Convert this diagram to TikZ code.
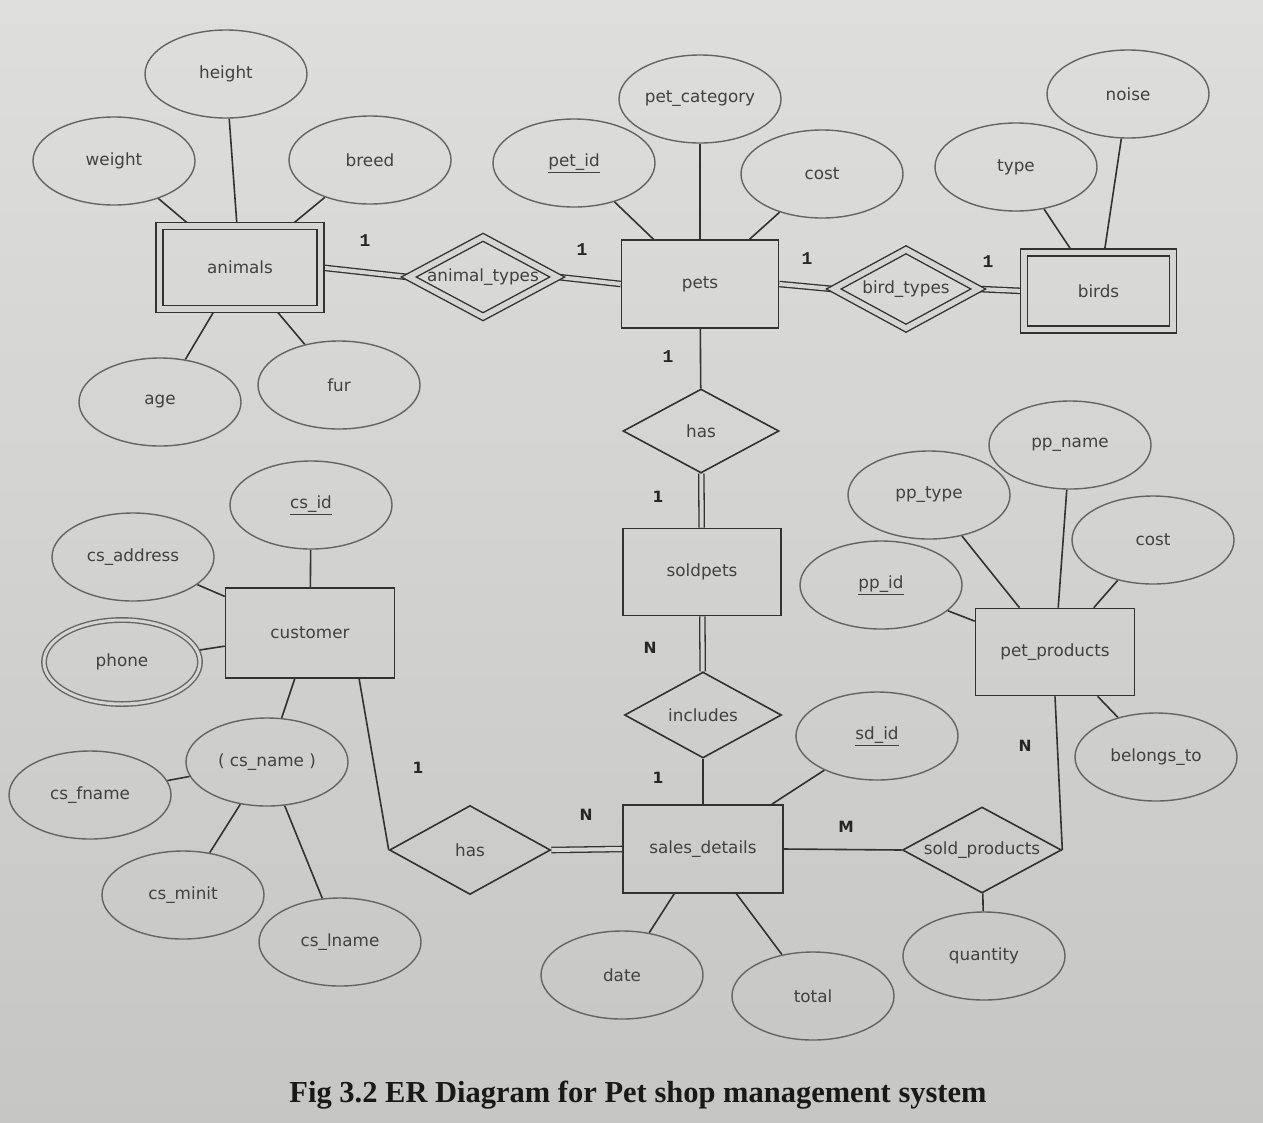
\documentclass[tikz,border=0pt]{standalone}
\usepackage{fontspec}
\setmainfont{DejaVu Sans}
\newfontfamily\capfont{Liberation Serif}
\newfontfamily\slabfont{Liberation Mono}
\usetikzlibrary{shapes.geometric,backgrounds}
\definecolor{paper}{RGB}{213,213,211}
\definecolor{papertop}{RGB}{222,222,220}
\definecolor{paperbot}{RGB}{198,198,196}
\definecolor{ink}{RGB}{50,50,50}
\definecolor{ellink}{RGB}{100,100,100}
\definecolor{txt}{RGB}{65,65,65}
\tikzset{
  lblfont/.style={font=\fontsize{16.8}{19}\selectfont, text=txt},
  attr/.style={ellipse, draw=ellink, line width=1.4pt, minimum width=162pt, minimum height=88pt, inner sep=0pt, lblfont},
  ent/.style={rectangle, draw=ink, line width=1.6pt, inner sep=0pt, lblfont},
  rel/.style={diamond, draw=ink, line width=1.6pt, inner sep=0pt},
  dblshape/.style={double=paper, double distance=5.5pt, line width=1.4pt},
  lbl/.style={inner sep=0pt, lblfont},
  cardsans/.style={inner sep=0pt, font=\bfseries\fontsize{15.5}{17}\selectfont, text=black!85},
  cardslab/.style={inner sep=0pt, font=\slabfont\bfseries\fontsize{18}{20}\selectfont, text=black!85},
  lnk/.style={draw=ink, line width=1.6pt},
  dlnk/.style={draw=ink, line width=1.3pt, double=paper, double distance=4pt}
}
\begin{document}
\begin{tikzpicture}[x=1pt,y=-1pt]
\useasboundingbox (0,0) rectangle (1263,1122);
% ---------- entities ----------
\node[ent, dblshape, minimum width=161pt, minimum height=83pt] (animals) at (240,267.5) {animals};
\node[ent, minimum width=157pt, minimum height=88pt] (pets) at (700,284) {pets};
\node[ent, dblshape, minimum width=149pt, minimum height=77pt] (birds) at (1098.5,291) {birds};
\node[ent, minimum width=158pt, minimum height=87pt] (soldpets) at (702,572) {soldpets};
\node[ent, minimum width=160pt, minimum height=88pt] (sales) at (703,849) {sales\_details};
\node[ent, minimum width=169pt, minimum height=90pt] (customer) at (310,633) {customer};
\node[ent, minimum width=159pt, minimum height=87pt] (pprod) at (1055,652) {pet\_products};
% ---------- relationships ----------
\node[rel, dblshape, minimum width=149pt, minimum height=80pt] (at) at (483,277) {};
\node[lbl] (att) at (at) {animal\_types};
\node[rel, dblshape, minimum width=145pt, minimum height=79pt] (bt) at (906,289) {};
\node[lbl] (btt) at (bt) {bird\_types};
\node[rel, minimum width=156pt, minimum height=84pt] (has) at (701,431) {};
\node[lbl] (hast) at (has) {has};
\node[rel, minimum width=157pt, minimum height=86pt] (incl) at (703,715) {};
\node[lbl] (inclt) at (incl) {includes};
\node[rel, minimum width=161pt, minimum height=89pt] (has2) at (470,850) {};
\node[lbl] (has2t) at (has2) {has};
\node[rel, minimum width=159pt, minimum height=86pt] (sold) at (982,850) {};
\node[lbl] (soldt) at (sold) {sold\_products};
% ---------- attributes ----------
\node[attr] (height) at (226,74) {height};
\node[attr] (weight) at (114,161) {weight};
\node[attr] (breed) at (370,160) {breed};
\node[attr] (age) at (160,402) {age};
\node[attr] (fur) at (339,385) {fur};
\node[attr] (petid) at (574,163) {\underline{pet\_id}};
\node[attr] (petcat) at (700,99) {pet\_category};
\node[attr] (cost1) at (822,174) {cost};
\node[attr] (type) at (1016,167) {type};
\node[attr] (noise) at (1128,94) {noise};
\node[attr] (csid) at (311,505) {\underline{cs\_id}};
\node[attr] (csaddr) at (133,557) {cs\_address};
\node[attr, dblshape, double distance=3pt, minimum width=156pt, minimum height=84pt] (phone) at (122,662) {phone};
\node[attr] (csname) at (267,762) {( cs\_name )};
\node[attr] (csfname) at (90,795) {cs\_fname};
\node[attr] (csminit) at (183,895) {cs\_minit};
\node[attr] (cslname) at (340,942) {cs\_lname};
\node[attr] (date) at (622,975) {date};
\node[attr] (total) at (813,996) {total};
\node[attr] (sdid) at (877,736) {\underline{sd\_id}};
\node[attr] (quantity) at (984,956) {quantity};
\node[attr] (ppid) at (881,585) {\underline{pp\_id}};
\node[attr] (pptype) at (929,495) {pp\_type};
\node[attr] (ppname) at (1070,445) {pp\_name};
\node[attr] (cost2) at (1153,540) {cost};
\node[attr] (belongs) at (1156,757) {belongs\_to};
% ---------- cardinalities ----------
\node[cardslab] (c1) at (365,241) {1};
\node[cardslab] (c2) at (582,250) {1};
\node[cardslab] (c3) at (807,259) {1};
\node[cardslab] (c4) at (988,262) {1};
\node[cardslab] (c5) at (668,357) {1};
\node[cardsans] (c6) at (658,497) {1};
\node[cardsans] (c7) at (650,648) {N};
\node[cardsans] (c8) at (658,778) {1};
\node[cardsans] (c9) at (418,768) {1};
\node[cardsans] (c10) at (586,815) {N};
\node[cardsans] (c11) at (846,827) {M};
\node[cardsans] (c12) at (1025,746) {N};
% ---------- caption ----------
\node[inner sep=0pt, font=\capfont\bfseries\fontsize{30.5}{33}\selectfont, text=black!90] (cap) at (638,1095) {Fig 3.2 ER Diagram for Pet shop management system};
% ---------- connectors (behind) ----------
\begin{scope}[on background layer]
\shade[top color=papertop, bottom color=paperbot] (0,0) rectangle (1263,1122);
\draw[lnk] (weight) -- (animals);
\draw[lnk] (height) -- (animals);
\draw[lnk] (breed) -- (animals);
\draw[lnk] (age) -- (animals);
\draw[lnk] (fur) -- (animals);
\draw[lnk] (petid) -- (pets);
\draw[lnk] (petcat) -- (pets);
\draw[lnk] (cost1) -- (pets);
\draw[lnk] (type) -- (birds);
\draw[lnk] (noise) -- (birds);
\draw[lnk] (csid) -- (customer);
\draw[lnk] (csaddr) -- (customer);
\draw[lnk] (phone) -- (customer);
\draw[lnk] (csname) -- (customer);
\draw[lnk] (csname) -- (csfname);
\draw[lnk] (csname) -- (csminit);
\draw[lnk] (csname) -- (cslname);
\draw[lnk] (sdid) -- (sales);
\draw[lnk] (date) -- (sales);
\draw[lnk] (total) -- (sales);
\draw[lnk] (ppid) -- (pprod);
\draw[lnk] (pptype) -- (pprod);
\draw[lnk] (ppname) -- (pprod);
\draw[lnk] (cost2) -- (pprod);
\draw[lnk] (belongs) -- (pprod);
\draw[lnk] (sold) -- (quantity);
\draw[lnk] (pets) -- (has);
\draw[lnk] (incl) -- (sales);
\draw[lnk] (customer.-43) -- (has2.west);
\draw[lnk] (sales.east) -- (sold.west);
\draw[lnk] (pprod.south) -- (sold.east);
\draw[dlnk] (animals.east) -- (at.west);
\draw[dlnk] (at.east) -- (pets.west);
\draw[dlnk] (pets.east) -- (bt.west);
\draw[dlnk] (bt.east) -- (birds.west);
\draw[dlnk] (has) -- (soldpets);
\draw[dlnk] (soldpets) -- (incl);
\draw[dlnk] (has2.east) -- (sales.west);
\end{scope}
\end{tikzpicture}
\end{document}
